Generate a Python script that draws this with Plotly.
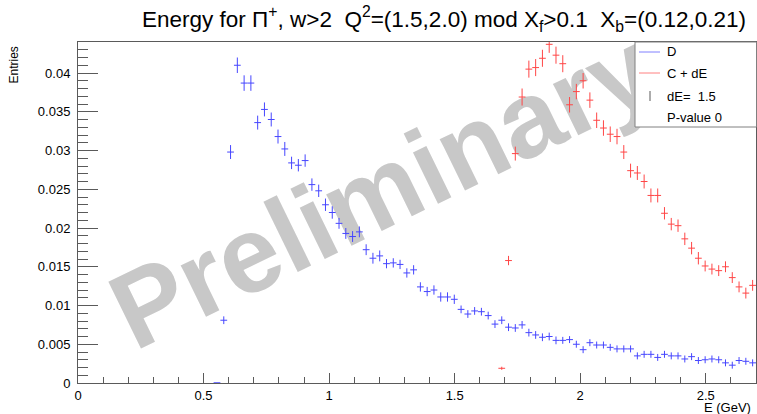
import numpy as np
import plotly.graph_objects as go

# ---------------- data ----------------
bin_width = 0.027          # histogram: 100 bins on 0 .. 2.7 GeV
blue_first_bin = 20
blue_vals = [0.00003, 0.0081, 0.0298, 0.0410, 0.0387, 0.0387, 0.0336, 0.0353, 0.0340, 0.0318,
             0.0302, 0.0284, 0.0281, 0.0287, 0.0256, 0.0248, 0.0230, 0.0220, 0.0206, 0.0193,
             0.0189, 0.0195, 0.0172, 0.0161, 0.0164, 0.0154, 0.0155, 0.0153, 0.0142, 0.0146,
             0.0124, 0.0118, 0.0120, 0.0111, 0.0111, 0.0108, 0.0095, 0.0089, 0.0093, 0.0092,
             0.0087, 0.0076, 0.0081, 0.0072, 0.0071, 0.0075, 0.0065, 0.0062, 0.0059, 0.0060,
             0.0055, 0.0055, 0.0056, 0.0050, 0.0043, 0.0052, 0.0049, 0.0049, 0.0046, 0.0044,
             0.0044, 0.0044, 0.0035, 0.0037, 0.0037, 0.0033, 0.0037, 0.0035, 0.0035, 0.0031,
             0.0034, 0.0029, 0.0030, 0.0031, 0.0030, 0.0026, 0.0023, 0.0029, 0.0028, 0.0026]
blue_errs = [0.0, 0.0005, 0.0009, 0.0010, 0.0010, 0.0010, 0.0009, 0.0009, 0.0009, 0.0009,
             0.0009, 0.0008, 0.0008, 0.0008, 0.0008, 0.0008, 0.0008, 0.0008, 0.0007, 0.0007,
             0.0007, 0.0007, 0.0007, 0.0007, 0.0007, 0.0006, 0.0006, 0.0006, 0.0006, 0.0006,
             0.0006, 0.0006, 0.0006, 0.0006, 0.0006, 0.0006, 0.0005, 0.0005, 0.0005, 0.0005,
             0.0005, 0.0005, 0.0005, 0.0005, 0.0005, 0.0005, 0.0005, 0.0005, 0.0005, 0.0005,
             0.0005, 0.00045, 0.00045, 0.00045, 0.00045, 0.00045, 0.00045, 0.00045, 0.00045, 0.00045,
             0.00045, 0.00045, 0.00045, 0.00045, 0.00045, 0.00045, 0.00045, 0.00045, 0.00045, 0.00045,
             0.00045, 0.00045, 0.00045, 0.00045, 0.00045, 0.00045, 0.00045, 0.00045, 0.00045, 0.00045]

red_first_bin = 62
red_vals = [0.0019, 0.0158, 0.0296, 0.0369, 0.0405, 0.0407, 0.0419, 0.0437, 0.0423, 0.0412,
            0.0359, 0.0376, 0.0390, 0.0365, 0.0339, 0.0329, 0.0321, 0.0318, 0.0298, 0.0274,
            0.0271, 0.0260, 0.0242, 0.0242, 0.0219, 0.0205, 0.0203, 0.0186, 0.0174, 0.0161,
            0.0151, 0.0147, 0.0145, 0.0150, 0.0136, 0.0124, 0.0116, 0.0126]
red_errs = [0.0002, 0.0006, 0.0009, 0.0011, 0.0011, 0.0011, 0.0011, 0.0011, 0.0011, 0.0011,
            0.0010, 0.0010, 0.0010, 0.0010, 0.0010, 0.0010, 0.0010, 0.0010, 0.0009, 0.0009,
            0.0009, 0.0009, 0.0009, 0.0009, 0.0008, 0.0008, 0.0008, 0.0008, 0.0008, 0.0008,
            0.0007, 0.0007, 0.0007, 0.0007, 0.0007, 0.0007, 0.0007, 0.0007]

x_tickvals = [0, 0.5, 1, 1.5, 2, 2.5]
x_ticktext = ["0", "0.5", "1", "1.5", "2", "2.5"]
y_tickvals = [0, 0.005, 0.01, 0.015, 0.02, 0.025, 0.03, 0.035, 0.04]
y_ticktext = ["0", "0.005", "0.01", "0.015", "0.02", "0.025", "0.03", "0.035", "0.04"]

legend_labels = ["D", "C + dE", "dE=  1.5", "P-value 0"]

# ---------------- figure ----------------
W, H = 757, 414
ML, MR, MT, MB = 78, 1, 42, 31
PW, PH = W - ML - MR, H - MT - MB
FONT = "Liberation Sans, Arial, Helvetica, sans-serif"
BLUE = "#4646ff"
RED = "#ff4646"
AX = "#5a5a5a"


def px(xp):
    return (xp - ML) / PW


def py(yp):
    return (H - MB - yp) / PH


def centers(first, n):
    return (np.arange(first, first + n) + 0.5) * bin_width


fig = go.Figure()
for first, vals, errs, col in [(blue_first_bin, blue_vals, blue_errs, BLUE),
                               (red_first_bin, red_vals, red_errs, RED)]:
    fig.add_trace(go.Scatter(
        x=centers(first, len(vals)), y=vals, mode="markers",
        marker=dict(size=1, color=col, opacity=0),
        error_x=dict(type="constant", value=bin_width / 2, width=0, thickness=1, color=col),
        error_y=dict(type="data", array=errs, width=0, thickness=1, color=col),
        showlegend=False, hoverinfo="skip"))

shapes = []
# watermark (below data)
cx, cy = 378, 180
shapes.append(dict(type="rect", xref="paper", yref="paper",
                   x0=px(cx - 50), x1=px(cx + 50), y0=py(cy + 30), y1=py(cy - 30),
                   line=dict(width=0), fillcolor="rgba(0,0,0,0)", layer="below",
                   label=dict(text="Preliminary", textangle=-26, textposition="middle center",
                              font=dict(family=FONT, size=108, color="rgb(200,200,200)", weight="bold"))))
# legend box
shapes.append(dict(type="rect", xref="paper", yref="paper",
                   x0=px(635), x1=px(756.5), y0=py(127), y1=py(42),
                   line=dict(width=1, color="#808080"), fillcolor="white", layer="above"))
# legend symbols
shapes.append(dict(type="line", xref="paper", yref="paper", x0=px(639), x1=px(660), y0=py(52), y1=py(52),
                   line=dict(width=1, color="#8080ff"), layer="above"))
shapes.append(dict(type="line", xref="paper", yref="paper", x0=px(639), x1=px(660), y0=py(73), y1=py(73),
                   line=dict(width=1, color="#ff8080"), layer="above"))
shapes.append(dict(type="line", xref="paper", yref="paper", x0=px(650), x1=px(650), y0=py(101), y1=py(91),
                   line=dict(width=1.5, color="#909090"), layer="above"))

annotations = []
for lab, yy in zip(legend_labels, [52, 73, 96, 117]):
    annotations.append(dict(text=lab.replace("  ", "\u00a0 "), xref="paper", yref="paper",
                            x=px(665), y=py(yy), xanchor="left", yanchor="middle",
                            showarrow=False, font=dict(family=FONT, size=13, color="black")))
# axis titles
annotations.append(dict(text="Entries", xref="paper", yref="paper", x=px(13), y=py(45),
                        xanchor="center", yanchor="top", textangle=-90, showarrow=False,
                        font=dict(family=FONT, size=12, color="black")))
annotations.append(dict(text="E (GeV)", xref="paper", yref="paper", x=px(753), y=py(407),
                        xanchor="right", yanchor="middle", showarrow=False,
                        font=dict(family=FONT, size=13, color="black")))

title = ("Energy for \u03a0<sup>+</sup>, w&gt;2\u00a0 Q<sup>2</sup>=(1.5,2.0) mod "
         "X<sub>f</sub>&gt;0.1\u00a0 X<sub>b</sub>=(0.12,0.21)")

fig.update_layout(
    width=W, height=H,
    margin=dict(l=ML, r=MR, t=MT, b=MB, pad=0, autoexpand=False),
    paper_bgcolor="white", plot_bgcolor="white",
    title=dict(text=title, xref="paper", x=px(444), xanchor="center", y=1 - 19 / H, yanchor="middle",
               font=dict(family=FONT, size=22.5, color="black")),
    shapes=shapes, annotations=annotations,
    showlegend=False,
    xaxis=dict(range=[0, 2.7], tickvals=x_tickvals, ticktext=x_ticktext, automargin=False,
               ticks="inside", ticklen=10, tickcolor=AX, tickwidth=1,
               minor=dict(dtick=0.1, tick0=0, ticks="inside", ticklen=6, tickcolor=AX, tickwidth=1),
               showline=True, linecolor=AX, linewidth=1, mirror=True,
               showgrid=False, zeroline=False,
               tickfont=dict(family=FONT, size=13, color="black")),
    yaxis=dict(range=[0, 0.044], tickvals=y_tickvals, ticktext=y_ticktext, automargin=False,
               ticks="inside", ticklen=20, tickcolor=AX, tickwidth=1,
               minor=dict(dtick=0.001, tick0=0, ticks="inside", ticklen=10, tickcolor=AX, tickwidth=1),
               showline=True, linecolor=AX, linewidth=1, mirror=True,
               showgrid=False, zeroline=False, ticklabelstandoff=4,
               tickfont=dict(family=FONT, size=13, color="black")),
)

fig.write_html("out.html", config={"displayModeBar": False},
               post_script="document.body.style.margin='0';")
